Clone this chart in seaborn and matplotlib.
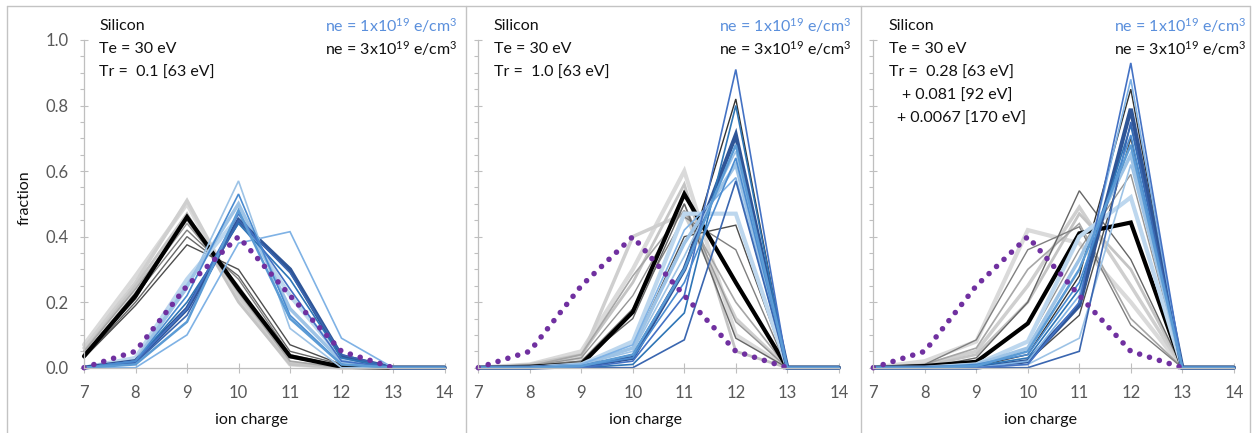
import matplotlib
matplotlib.use("Agg")
import matplotlib.pyplot as plt
from matplotlib.lines import Line2D
from matplotlib.ticker import MultipleLocator
import seaborn as sns

# ---------------- data ----------------
charges = [7, 8, 9, 10, 11, 12, 13, 14]
ref_charges = [7, 8, 9, 10, 11, 12, 13]
ref_fraction = [0.0, 0.05, 0.25, 0.40, 0.22, 0.05, 0.0]

y_ticks = [0.0, 0.2, 0.4, 0.6, 0.8, 1.0]
y_tick_labels = ["0.0", "0.2", "0.4", "0.6", "0.8", "1.0"]

# panel 1 : Tr = 0.1 [63 eV]
p1_gray = [
    [0.07, 0.28, 0.50, 0.21, 0.01, 0.0, 0, 0],
    [0.06, 0.26, 0.51, 0.22, 0.015, 0.0, 0, 0],
    [0.05, 0.25, 0.47, 0.20, 0.01, 0.0, 0, 0],
    [0.05, 0.24, 0.45, 0.23, 0.02, 0.0, 0, 0],
    [0.04, 0.23, 0.44, 0.25, 0.03, 0.005, 0, 0],
    [0.04, 0.22, 0.42, 0.27, 0.04, 0.005, 0, 0],
    [0.03, 0.20, 0.40, 0.28, 0.05, 0.01, 0, 0],
    [0.03, 0.19, 0.375, 0.30, 0.07, 0.01, 0, 0],
    [0.04, 0.21, 0.46, 0.24, 0.035, 0.0, 0, 0],
]
p1_black = [0.035, 0.22, 0.46, 0.24, 0.035, 0.003, 0, 0]
p1_blue = [
    [0, 0.03, 0.27, 0.46, 0.22, 0.03, 0, 0],
    [0, 0.02, 0.25, 0.50, 0.18, 0.02, 0, 0],
    [0, 0.02, 0.24, 0.57, 0.12, 0.0, 0, 0],
    [0, 0.0, 0.10, 0.38, 0.415, 0.09, 0, 0],
    [0, 0.02, 0.20, 0.44, 0.27, 0.03, 0, 0],
    [0, 0.015, 0.16, 0.45, 0.29, 0.04, 0, 0],
    [0, 0.02, 0.18, 0.47, 0.24, 0.02, 0, 0],
    [0, 0.02, 0.22, 0.53, 0.16, 0.01, 0, 0],
    [0, 0.01, 0.14, 0.48, 0.15, 0.01, 0, 0],
]
p1_navy = [0, 0.02, 0.18, 0.45, 0.30, 0.035, 0, 0]

# panel 2 : Tr = 1.0 [63 eV]
p2_gray = [
    [0, 0.01, 0.05, 0.30, 0.60, 0.10, 0, 0],
    [0, 0.005, 0.03, 0.40, 0.47, 0.15, 0, 0],
    [0, 0.01, 0.04, 0.26, 0.56, 0.05, 0, 0],
    [0, 0.005, 0.04, 0.28, 0.48, 0.20, 0, 0],
    [0, 0.005, 0.03, 0.22, 0.50, 0.14, 0, 0],
    [0, 0.005, 0.02, 0.18, 0.46, 0.36, 0, 0],
    [0, 0.005, 0.02, 0.15, 0.50, 0.09, 0, 0],
    [0, 0.0, 0.005, 0.06, 0.40, 0.435, 0, 0],
    [0, 0.0, 0.005, 0.04, 0.30, 0.82, 0, 0],
]
p2_black = [0, 0.003, 0.01, 0.17, 0.53, 0.26, 0, 0]
p2_blue = [
    [0, 0, 0.01, 0.08, 0.47, 0.47, 0, 0],
    [0, 0, 0.01, 0.06, 0.38, 0.62, 0, 0],
    [0, 0, 0.01, 0.05, 0.34, 0.66, 0, 0],
    [0, 0, 0.01, 0.07, 0.42, 0.58, 0, 0],
    [0, 0, 0.0, 0.01, 0.167, 0.80, 0, 0],
    [0, 0, 0.0, 0.0, 0.085, 0.57, 0, 0],
    [0, 0, 0.0, 0.02, 0.22, 0.91, 0, 0],
    [0, 0, 0.005, 0.03, 0.26, 0.64, 0, 0],
    [0, 0, 0.005, 0.04, 0.30, 0.68, 0, 0],
]
p2_navy = [0, 0, 0.005, 0.03, 0.30, 0.71, 0, 0]

# panel 3 : Tr = 0.28 [63 eV] + 0.081 [92 eV] + 0.0067 [170 eV]
p3_gray = [
    [0, 0.02, 0.08, 0.42, 0.38, 0.20, 0, 0],
    [0, 0.01, 0.05, 0.25, 0.49, 0.25, 0, 0],
    [0, 0.005, 0.04, 0.20, 0.47, 0.30, 0, 0],
    [0, 0.01, 0.06, 0.30, 0.44, 0.15, 0, 0],
    [0, 0.0, 0.01, 0.08, 0.36, 0.59, 0, 0],
    [0, 0.01, 0.085, 0.36, 0.43, 0.13, 0, 0],
    [0, 0.0, 0.03, 0.20, 0.54, 0.33, 0, 0],
    [0, 0.0, 0.0, 0.02, 0.16, 0.70, 0, 0],
    [0, 0.0, 0.005, 0.04, 0.28, 0.85, 0, 0],
]
p3_black = [0, 0.005, 0.018, 0.135, 0.41, 0.443, 0, 0]
p3_blue = [
    [0, 0, 0.01, 0.08, 0.40, 0.52, 0, 0],
    [0, 0, 0.01, 0.06, 0.33, 0.65, 0, 0],
    [0, 0, 0.0, 0.01, 0.09, 0.62, 0, 0],
    [0, 0, 0.0, 0.02, 0.22, 0.88, 0, 0],
    [0, 0, 0.005, 0.03, 0.24, 0.74, 0, 0],
    [0, 0, 0.0, 0.0, 0.05, 0.75, 0, 0],
    [0, 0, 0.0, 0.01, 0.20, 0.93, 0, 0],
    [0, 0, 0.01, 0.04, 0.26, 0.71, 0, 0],
    [0, 0, 0.005, 0.05, 0.30, 0.68, 0, 0],
]
p3_navy = [0, 0, 0.0, 0.02, 0.19, 0.79, 0, 0]

panel_notes = [
    ["Silicon", "Te = 30 eV", "Tr =  0.1 [63 eV]"],
    ["Silicon", "Te = 30 eV", "Tr =  1.0 [63 eV]"],
    ["Silicon", "Te = 30 eV", "Tr =  0.28 [63 eV]"],
]
panel3_extra = ["+ 0.081 [92 eV]", "+ 0.0067 [170 eV]"]
legend_blue = "ne = 1x10$^{19}$ e/cm$^{3}$"
legend_black = "ne = 3x10$^{19}$ e/cm$^{3}$"

# ---------------- styles ----------------
GRAY_STYLES = [("#dadada", 3.0), ("#cfcfcf", 2.5), ("#c4c4c4", 2.0), ("#a6a6a6", 1.2),
               ("#969696", 1.0), ("#7f7f7f", 1.0), ("#666666", 1.0), ("#4d4d4d", 1.0),
               ("#333333", 1.0)]
BLACK_STYLE = ("#000000", 3.0)
BLUE_STYLES = [("#bdd7ee", 3.0), ("#9dc3e6", 2.5), ("#9dc3e6", 1.2), ("#7fb2e5", 1.2),
               ("#2e75b6", 1.2), ("#3a66b0", 1.2), ("#4472c4", 1.2), ("#4a8bd0", 1.2),
               ("#5b9bd5", 1.8)]
NAVY_STYLE = ("#2f5597", 3.0)
PURPLE = "#7030a0"
AXIS_GRAY = "#bfbfbf"
TICK_TEXT = "#595959"
TEXT_COL = "#111111"

sns.set_theme(style="white")
plt.rcParams["font.family"] = ["Lato", "DejaVu Sans"]
plt.rcParams["mathtext.fontset"] = "custom"
plt.rcParams["mathtext.rm"] = "Lato"
plt.rcParams["mathtext.it"] = "Lato:italic"
plt.rcParams["mathtext.bf"] = "Lato:bold"

W, H = 1253, 433
fig = plt.figure(figsize=(W / 100, H / 100), dpi=100)
fig.patch.set_facecolor("white")

ax_left_px = [84, 478.3, 873.3]
ax_w_px = 360.5
y0_px, y1_px = 367.7, 40.0


def fx(x):
    return x / W


def fy(y):
    return 1 - y / H


panels = [
    (p1_gray, p1_black, p1_blue, p1_navy),
    (p2_gray, p2_black, p2_blue, p2_navy),
    (p3_gray, p3_black, p3_blue, p3_navy),
]


def draw(ax, xs, ys, color, lw, **kw):
    sns.lineplot(x=xs, y=ys, ax=ax, color=color, linewidth=lw, sort=False,
                 clip_on=False, solid_joinstyle="miter", **kw)


for i, (grays, black, blues, navy) in enumerate(panels):
    left = ax_left_px[i]
    ax = fig.add_axes([fx(left), fy(y0_px), ax_w_px / W, (y0_px - y1_px) / H])
    ax.set_facecolor("white")

    for ys, (c, lw) in zip(grays, GRAY_STYLES):
        draw(ax, charges, ys, c, lw)
    draw(ax, charges, black, *BLACK_STYLE)
    for ys, (c, lw) in zip(blues[:2], BLUE_STYLES[:2]):
        draw(ax, charges, ys, c, lw)
    draw(ax, charges, navy, *NAVY_STYLE)
    for ys, (c, lw) in zip(blues[2:], BLUE_STYLES[2:]):
        draw(ax, charges, ys, c, lw)
    draw(ax, ref_charges, ref_fraction, PURPLE, 4.0,
         linestyle=(0, (0.01, 1.85)), dash_capstyle="round")

    ax.set_xlim(7, 14)
    ax.set_ylim(0, 1.0)
    ax.set_xticks(charges)
    ax.set_xticklabels([str(c) for c in charges])
    ax.set_yticks(y_ticks)
    ax.yaxis.set_minor_locator(MultipleLocator(0.05))
    if i == 0:
        ax.set_yticklabels(y_tick_labels)
        ax.set_ylabel("fraction", fontsize=11.5, color=TEXT_COL)
        ax.yaxis.set_label_coords(-0.145, 0.52)
    else:
        ax.set_yticklabels([])
        ax.set_ylabel("")
    ax.set_xlabel("ion charge", fontsize=11.5, color=TEXT_COL)
    ax.xaxis.set_label_coords(0.464, -0.138)

    for s in ["top", "right"]:
        ax.spines[s].set_visible(False)
    for s in ["left", "bottom"]:
        ax.spines[s].set_color(AXIS_GRAY)
        ax.spines[s].set_linewidth(0.9)
    ax.tick_params(axis="y", which="major", direction="inout", length=6, width=0.8,
                   color=AXIS_GRAY, labelsize=12, labelcolor=TICK_TEXT, pad=8.3, left=True)
    ax.tick_params(axis="y", which="minor", direction="out", length=3, width=0.8,
                   color=AXIS_GRAY, left=True)
    ax.tick_params(axis="x", which="major", direction="inout", length=7, width=0.8,
                   color=AXIS_GRAY, labelsize=12, labelcolor=TICK_TEXT, pad=9.3, bottom=True)
    ax.grid(False)

    # annotations
    tx = left + 15.3
    for j, line in enumerate(panel_notes[i]):
        fig.text(fx(tx), fy(30 + 23.2 * j), line, fontsize=11.5, color=TEXT_COL,
                 ha="left", va="baseline")
    if i == 2:
        fig.text(fx(left + 29), fy(100), panel3_extra[0], fontsize=11.5,
                 color=TEXT_COL, ha="left", va="baseline")
        fig.text(fx(left + 24), fy(123.2), panel3_extra[1], fontsize=11.5,
                 color=TEXT_COL, ha="left", va="baseline")
    rx = left + ax_w_px + 13
    fig.text(fx(rx), fy(32), legend_blue, fontsize=11.5, color="#5a8fdc",
             ha="right", va="baseline")
    fig.text(fx(rx), fy(55), legend_black, fontsize=11.5, color=TEXT_COL,
             ha="right", va="baseline")

# panel frames
BORDER = "#c3c3c3"
fig.add_artist(Line2D([fx(7), fx(1250)], [fy(6), fy(6)], transform=fig.transFigure,
                      color=BORDER, lw=1.0))
for xb in [7, 465.7, 861, 1250]:
    fig.add_artist(Line2D([fx(xb), fx(xb)], [fy(6), fy(433)], transform=fig.transFigure,
                          color=BORDER, lw=1.0))

fig.savefig("out.png", dpi=100, facecolor="white")
